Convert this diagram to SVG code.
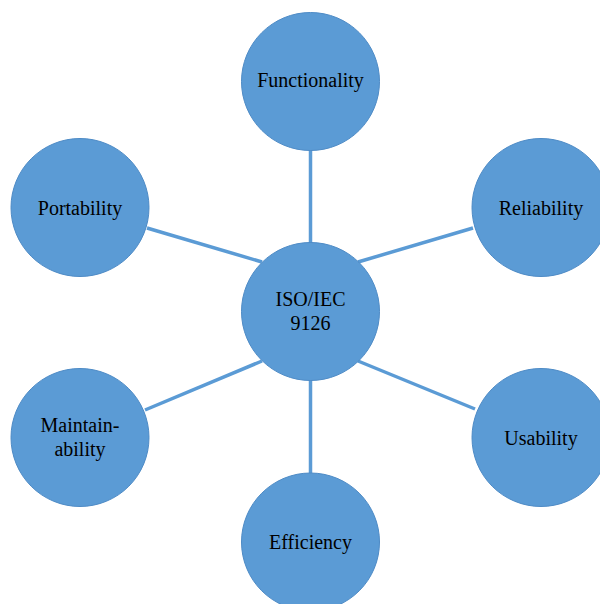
<svg xmlns="http://www.w3.org/2000/svg" width="600" height="604" viewBox="0 0 600 604">
<style>
.n{fill:#5B9BD5;stroke:#4E8BC6;stroke-width:1}
.t{font-family:"Liberation Serif","Times New Roman",serif;font-size:20px;fill:#000;text-anchor:middle}
.c{stroke:#5B9BD5;stroke-width:3.5;fill:none}
</style>
<rect width="600" height="604" fill="#fff"/>
<g id="connectors">
<line class="c" x1="310.5" y1="150" x2="310.5" y2="243"/>
<line class="c" x1="147" y1="228" x2="262" y2="262"/>
<line class="c" x1="473" y1="228" x2="358" y2="262"/>
<line class="c" x1="145" y1="410" x2="262" y2="361"/>
<line class="c" x1="475" y1="409" x2="358" y2="361"/>
<line class="c" x1="310.5" y1="380" x2="310.5" y2="473"/>
</g>
<g id="center"><circle class="n" cx="310.5" cy="311.5" r="69"/><text class="t" x="310.5" y="306">ISO/IEC</text><text class="t" x="310.5" y="330">9126</text></g>
<g id="functionality"><circle class="n" cx="310.5" cy="81.5" r="69"/><text class="t" x="310.5" y="87">Functionality</text></g>
<g id="reliability"><circle class="n" cx="541" cy="207.5" r="69"/><text class="t" x="541" y="215">Reliability</text></g>
<g id="portability"><circle class="n" cx="80" cy="207.5" r="69"/><text class="t" x="80" y="215">Portability</text></g>
<g id="maintainability"><circle class="n" cx="80" cy="437.5" r="69"/><text class="t" x="80" y="432">Maintain-</text><text class="t" x="80" y="456">ability</text></g>
<g id="usability"><circle class="n" cx="541" cy="437.5" r="69"/><text class="t" x="541" y="445">Usability</text></g>
<g id="efficiency"><circle class="n" cx="310.5" cy="542" r="69"/><text class="t" x="310.5" y="549">Efficiency</text></g>
</svg>
